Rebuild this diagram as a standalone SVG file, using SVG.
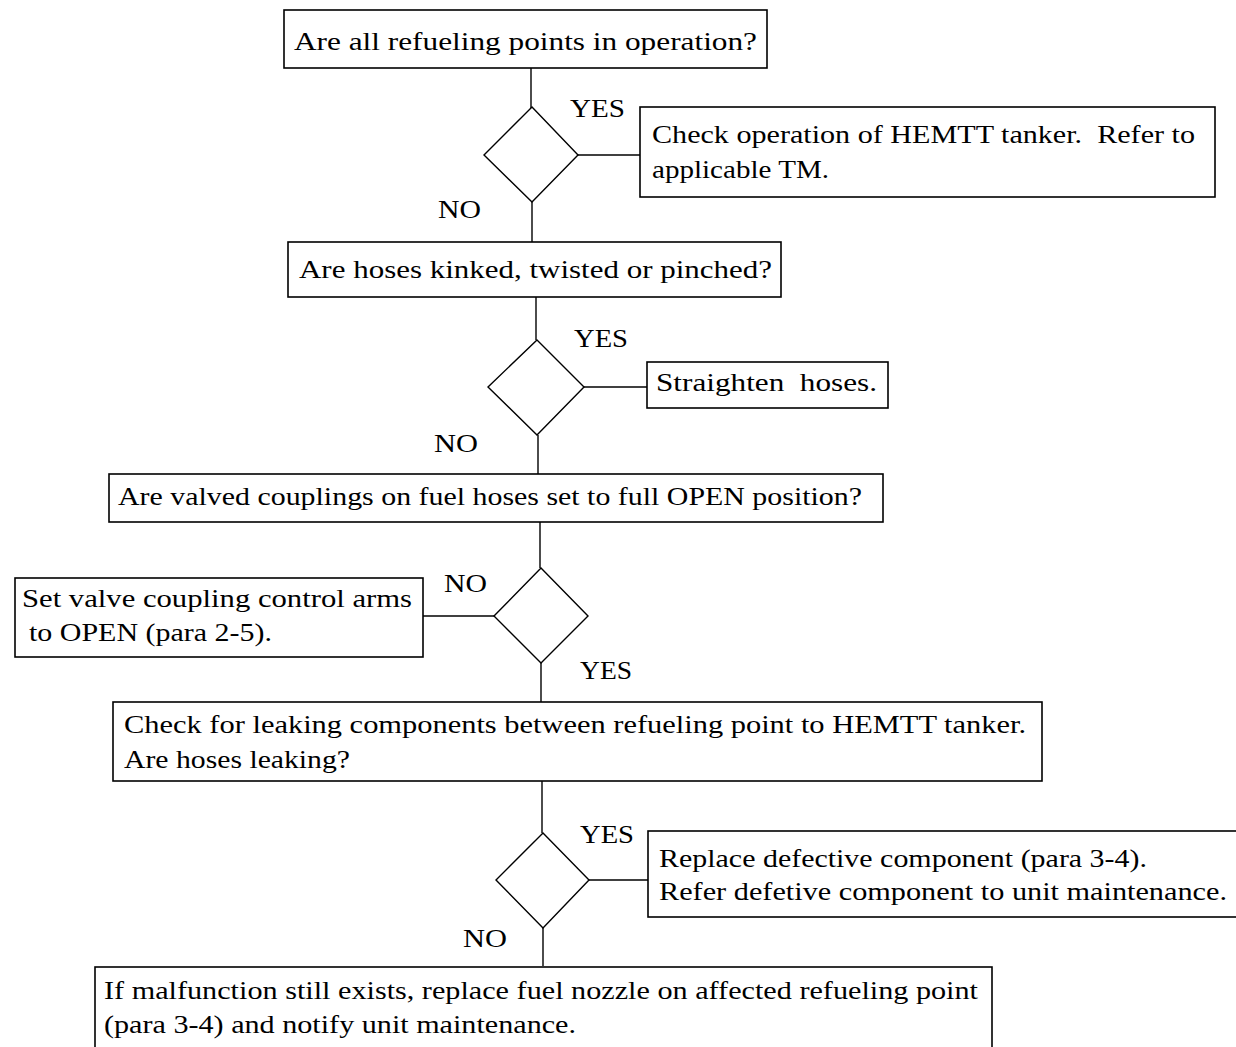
<svg xmlns="http://www.w3.org/2000/svg" width="1236" height="1047" viewBox="0 0 1236 1047">
<style>
.box{fill:#fff;stroke:#000;stroke-width:1.6}
.dia{fill:#fff;stroke:#000;stroke-width:1.4}
.con line{stroke:#000;stroke-width:1.4}
text{font-family:"Liberation Serif","DejaVu Serif",serif;font-size:26px;fill:#000;white-space:pre}
</style>
<rect width="1236" height="1047" fill="#fff"/>
<g id="connectors" class="con">
<line x1="531" y1="68" x2="531" y2="108"/>
<line x1="578" y1="155" x2="640" y2="155"/>
<line x1="532" y1="202" x2="532" y2="242"/>
<line x1="536" y1="297" x2="536" y2="340"/>
<line x1="584" y1="387" x2="647" y2="387"/>
<line x1="538" y1="435" x2="538" y2="474"/>
<line x1="540" y1="522" x2="540" y2="568"/>
<line x1="494" y1="616" x2="423" y2="616"/>
<line x1="541" y1="663" x2="541" y2="703"/>
<line x1="542" y1="781" x2="542" y2="833"/>
<line x1="589" y1="880" x2="648" y2="880"/>
<line x1="543" y1="928" x2="543" y2="966"/>
</g>
<g id="q1"><rect class="box" x="284" y="10" width="483" height="58"/><text x="294" y="50" textLength="463" lengthAdjust="spacingAndGlyphs">Are all refueling points in operation?</text></g>
<g id="d1"><polygon class="dia" points="532,107 578,155 532,202 484,155"/><text x="570" y="117" textLength="55" lengthAdjust="spacingAndGlyphs">YES</text><text x="438" y="218" textLength="43" lengthAdjust="spacingAndGlyphs">NO</text></g>
<g id="a1"><rect class="box" x="640" y="107" width="575" height="90"/><text x="652" y="143" textLength="543" lengthAdjust="spacingAndGlyphs">Check operation of HEMTT tanker.  Refer to</text><text x="652" y="178" textLength="177" lengthAdjust="spacingAndGlyphs">applicable TM.</text></g>
<g id="q2"><rect class="box" x="288" y="242" width="493" height="55"/><text x="299" y="278" textLength="473" lengthAdjust="spacingAndGlyphs">Are hoses kinked, twisted or pinched?</text></g>
<g id="d2"><polygon class="dia" points="537,340 584,387 537,435 488,387"/><text x="574" y="347" textLength="54" lengthAdjust="spacingAndGlyphs">YES</text><text x="434" y="452" textLength="44" lengthAdjust="spacingAndGlyphs">NO</text></g>
<g id="a2"><rect class="box" x="647" y="362" width="241" height="46"/><text x="656" y="391" textLength="221" lengthAdjust="spacingAndGlyphs">Straighten  hoses.</text></g>
<g id="q3"><rect class="box" x="109" y="474" width="774" height="48"/><text x="118" y="505" textLength="744" lengthAdjust="spacingAndGlyphs">Are valved couplings on fuel hoses set to full OPEN position?</text></g>
<g id="d3"><polygon class="dia" points="541,568 588,616 541,663 494,616"/><text x="444" y="592" textLength="43" lengthAdjust="spacingAndGlyphs">NO</text><text x="580" y="679" textLength="52" lengthAdjust="spacingAndGlyphs">YES</text></g>
<g id="a3"><rect class="box" x="15" y="578" width="408" height="79"/><text x="22" y="607" textLength="390" lengthAdjust="spacingAndGlyphs">Set valve coupling control arms</text><text x="29" y="641" textLength="243" lengthAdjust="spacingAndGlyphs">to OPEN (para 2-5).</text></g>
<g id="q4"><rect class="box" x="113" y="702" width="929" height="79"/><text x="124" y="733" textLength="902" lengthAdjust="spacingAndGlyphs">Check for leaking components between refueling point to HEMTT tanker.</text><text x="124" y="768" textLength="226" lengthAdjust="spacingAndGlyphs">Are hoses leaking?</text></g>
<g id="d4"><polygon class="dia" points="543,833 589,880 543,928 496,880"/><text x="580" y="843" textLength="54" lengthAdjust="spacingAndGlyphs">YES</text><text x="463" y="947" textLength="44" lengthAdjust="spacingAndGlyphs">NO</text></g>
<g id="a4"><rect class="box" x="648" y="831" width="592" height="86"/><text x="659" y="867" textLength="488" lengthAdjust="spacingAndGlyphs">Replace defective component (para 3-4).</text><text x="659" y="900" textLength="568" lengthAdjust="spacingAndGlyphs">Refer defetive component to unit maintenance.</text></g>
<g id="end"><rect class="box" x="95" y="967" width="897" height="90"/><text x="104" y="999" textLength="874" lengthAdjust="spacingAndGlyphs">If malfunction still exists, replace fuel nozzle on affected refueling point</text><text x="104" y="1033" textLength="472" lengthAdjust="spacingAndGlyphs">(para 3-4) and notify unit maintenance.</text></g>
</svg>
